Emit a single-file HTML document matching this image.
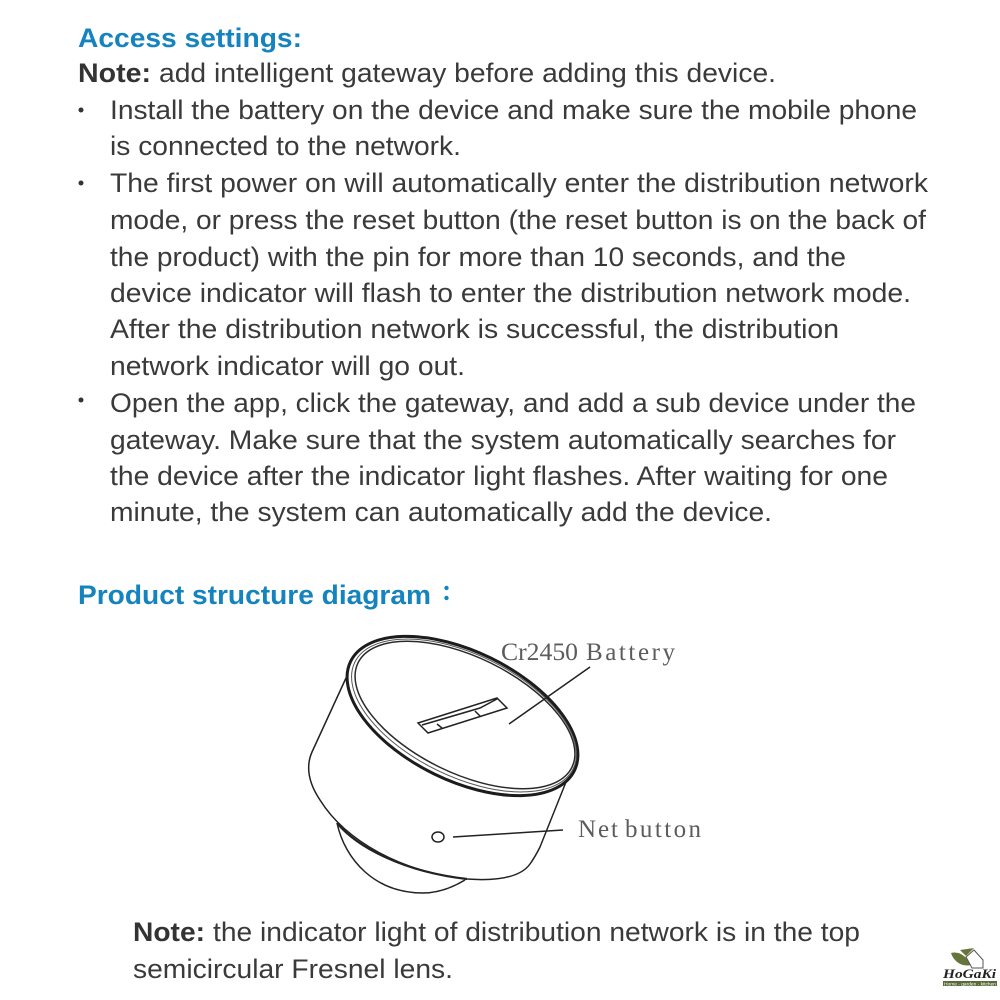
<!DOCTYPE html>
<html>
<head>
<meta charset="utf-8">
<style>
html,body{margin:0;padding:0;background:#fff;}
svg{display:block;}
text{font-family:"Liberation Sans",sans-serif;}
.t{font-size:26.5px;fill:#3a3a3a;}
.h{font-size:27px;font-weight:bold;fill:#1583bd;}
.b{font-weight:bold;fill:#333;}
.s{font-family:"Liberation Serif",serif;font-size:25px;fill:#5c5c5c;}
.l{fill:none;stroke:#222;stroke-width:1.5;}
.logo{font-family:"Liberation Serif",serif;font-size:13px;font-weight:bold;font-style:italic;fill:#222;}
.soft{filter:blur(0.35px);}
</style>
</head>
<body>
<svg width="1000" height="1000" viewBox="0 0 1000 1000" xmlns="http://www.w3.org/2000/svg">
<rect width="1000" height="1000" fill="#fff"/>
<g class="soft">
<text class="h" x="78" y="47" textLength="224" lengthAdjust="spacingAndGlyphs">Access settings:</text>
<text class="t b" x="78" y="82" textLength="73" lengthAdjust="spacingAndGlyphs">Note:</text>
<text class="t" x="159" y="82" textLength="617" lengthAdjust="spacingAndGlyphs">add intelligent gateway before adding this device.</text>
<circle cx="81" cy="110" r="2.5" fill="#333"/>
<text class="t" x="110" y="119" textLength="807" lengthAdjust="spacingAndGlyphs">Install the battery on the device and make sure the mobile phone</text>
<text class="t" x="110" y="155" textLength="351" lengthAdjust="spacingAndGlyphs">is connected to the network.</text>
<circle cx="81" cy="183" r="2.5" fill="#333"/>
<text class="t" x="110" y="192" textLength="818" lengthAdjust="spacingAndGlyphs">The first power on will automatically enter the distribution network</text>
<text class="t" x="110" y="229" textLength="816" lengthAdjust="spacingAndGlyphs">mode, or press the reset button (the reset button is on the back of</text>
<text class="t" x="110" y="266" textLength="736" lengthAdjust="spacingAndGlyphs">the product) with the pin for more than 10 seconds, and the</text>
<text class="t" x="110" y="302" textLength="801" lengthAdjust="spacingAndGlyphs">device indicator will flash to enter the distribution network mode.</text>
<text class="t" x="110" y="338" textLength="729" lengthAdjust="spacingAndGlyphs">After the distribution network is successful, the distribution</text>
<text class="t" x="110" y="375" textLength="355" lengthAdjust="spacingAndGlyphs">network indicator will go out.</text>
<circle cx="81" cy="400" r="2.5" fill="#333"/>
<text class="t" x="110" y="412" textLength="806" lengthAdjust="spacingAndGlyphs">Open the app, click the gateway, and add a sub device under the</text>
<text class="t" x="110" y="449" textLength="786" lengthAdjust="spacingAndGlyphs">gateway. Make sure that the system automatically searches for</text>
<text class="t" x="110" y="485" textLength="778" lengthAdjust="spacingAndGlyphs">the device after the indicator light flashes. After waiting for one</text>
<text class="t" x="110" y="521" textLength="662" lengthAdjust="spacingAndGlyphs">minute, the system can automatically add the device.</text>

<text class="h" x="78" y="604" textLength="353" lengthAdjust="spacingAndGlyphs">Product structure diagram</text>
<circle cx="446.500" cy="588" r="2.2" fill="#1583bd"/>
<circle cx="446.500" cy="598" r="2.2" fill="#1583bd"/>

<!-- device -->
<path class="l" d="M346 678 L312 752 C305 768 310 785 320 800 C345 840 400 872 467 879 C495 881 520 878 530 864 C535 857 538 851 540 847 L568 777"/>
<path d="M337 823 C358 848 405 872 467 879" fill="none" stroke="#222" stroke-width="2.200"/>
<path class="l" d="M337 823 C345 860 375 893 423 893 C440 893 455 886 465 880"/>
<ellipse cx="462.500" cy="716" rx="124.500" ry="64.500" transform="rotate(26 462.500 716)" fill="#fff" stroke="#1c1c1c" stroke-width="3"/>
<ellipse cx="464" cy="715.500" rx="121.500" ry="61" transform="rotate(26 464 715.500)" fill="none" stroke="#555" stroke-width="1"/>
<ellipse cx="465" cy="715" rx="119" ry="58" transform="rotate(26 465 715)" fill="#fff" stroke="#2a2a2a" stroke-width="1.500"/>
<path class="l" stroke-width="1.200" d="M418 723 L497 698 L507 708 L428 733 Z M422 725 L480 708 L497 699 M437 724 L442 728 M475 711 L480 716"/>
<path class="l" d="M509 724 L590 667"/>
<ellipse cx="438" cy="837" rx="6" ry="5" fill="#fff" stroke="#222" stroke-width="1.500"/>
<path class="l" d="M453 837 L563 830"/>
<text class="s" x="501" y="660" textLength="77" lengthAdjust="spacingAndGlyphs">Cr2450</text>
<text class="s" x="586" y="660" textLength="89" lengthAdjust="spacing">Battery</text>
<text class="s" x="578" y="837" textLength="40" lengthAdjust="spacing">Net</text>
<text class="s" x="625" y="837" textLength="76" lengthAdjust="spacing">button</text>

<text class="t b" x="133" y="941" textLength="72" lengthAdjust="spacingAndGlyphs">Note:</text>
<text class="t" x="213" y="941" textLength="647" lengthAdjust="spacingAndGlyphs">the indicator light of distribution network is in the top</text>
<text class="t" x="133" y="978" textLength="320" lengthAdjust="spacingAndGlyphs">semicircular Fresnel lens.</text>

<!-- logo -->
<path d="M951 953 C958 951 966 955 971 965 C962 967 954 962 951 953 Z" fill="#66753a"/>
<path d="M966 957 L974 950 L983 960 L983 968 L972 968 Z" fill="#fff" stroke="#555" stroke-width="1"/>
<path d="M960 950 L974 948 L966 956 Z" fill="#66753a"/>
<text class="logo" x="943" y="978" textLength="53" lengthAdjust="spacingAndGlyphs">HoGaKi</text>
<rect x="943" y="981" width="54" height="5" fill="#5a6a3a"/>
<text x="944" y="985.300" font-size="4.500" fill="#fff" textLength="52" lengthAdjust="spacingAndGlyphs">Home - garden - kitchen</text>
</g>
</svg>
</body>
</html>
